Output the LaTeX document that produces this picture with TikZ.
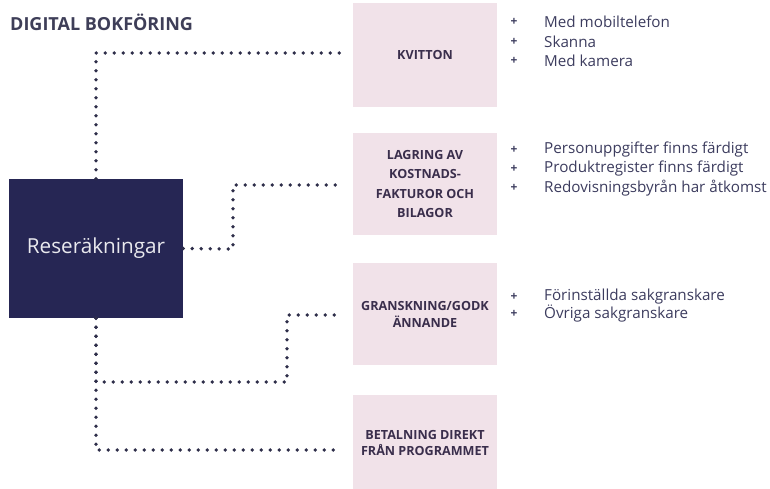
\documentclass[tikz,border=0pt]{standalone}
\usepackage{fontspec}
\setmainfont{Open Sans}
\usetikzlibrary{calc}
\definecolor{navy}{HTML}{262654}
\definecolor{pinkbox}{HTML}{F1E2E9}
\definecolor{boxtxt}{HTML}{3A2E4C}
\definecolor{listtxt}{HTML}{3C3C5E}
\definecolor{titletxt}{HTML}{3E3E58}
\definecolor{dotc}{HTML}{2E2E4A}
\begin{document}
\begin{tikzpicture}[x=1pt,y=-1pt,
  pbox/.style={fill=pinkbox, minimum width=144pt, inner sep=0pt, align=center, text=boxtxt},
  conn/.style={draw=dotc, line width=3.8pt, line cap=round, dash pattern=on 0pt off 9pt},
  item/.style={anchor=west, font=\fontsize{15.2}{16}\selectfont, text=listtxt, inner sep=0pt},
  plus/.style={anchor=center, font=\bfseries\fontsize{12}{12}\selectfont, text=listtxt, inner sep=0pt}]
\useasboundingbox (0,0) rectangle (770,489);
\node[anchor=west, inner sep=0pt, font=\bfseries\fontsize{18}{18}\selectfont, text=titletxt] (title) at (10,22) {DIGITAL BOKFÖRING};
\node[fill=navy, minimum width=174pt, minimum height=139pt, inner sep=0pt, text=white!90!navy, font=\fontsize{20.7}{20.7}\selectfont] (main) at (96,248.5) {Reseräkningar};
\node[pbox, minimum height=104pt, font=\bfseries\fontsize{12.6}{19.5}\selectfont] (kv) at (425,55) {KVITTON};
\node[pbox, minimum height=102pt, font=\bfseries\fontsize{12.6}{19.5}\selectfont] (lag) at (425,184) {LAGRING AV\\KOSTNADS-\\FAKTUROR OCH\\BILAGOR};
\node[pbox, minimum height=102pt, font=\bfseries\fontsize{12.6}{17}\selectfont] (gr) at (425,314) {GRANSKNING/GODK\\ÄNNANDE};
\node[pbox, minimum height=96pt, font=\bfseries\fontsize{12.6}{16.5}\selectfont] (bet) at (425,443) {BETALNING DIREKT\\FRÅN PROGRAMMET};
% lists
\node[plus] (p11) at (514,22) {+}; \node[item] (t11) at (544,22) {Med mobiltelefon};
\node[plus] (p12) at (514,42) {+}; \node[item] (t12) at (544,42) {Skanna};
\node[plus] (p13) at (514,61) {+}; \node[item] (t13) at (544,61) {Med kamera};
\node[plus] (p21) at (514,150) {+}; \node[item] (t21) at (544,150) {Personuppgifter finns färdigt};
\node[plus] (p22) at (514,169) {+}; \node[item] (t22) at (544,169) {Produktregister finns färdigt};
\node[plus] (p23) at (514,188) {+}; \node[item] (t23) at (544,188) {Redovisningsbyrån har åtkomst};
\node[plus] (p31) at (514,297) {+}; \node[item] (t31) at (544,297) {Förinställda sakgranskare};
\node[plus] (p32) at (514,314) {+}; \node[item] (t32) at (544,314) {Övriga sakgranskare};
% connectors
\coordinate (e1) at (342,53);
\coordinate (e2) at (339,185);
\coordinate (k2) at (233,249);
\coordinate (j3) at (96,382);
\coordinate (k3) at (287,382);
\coordinate (e3) at (338,315);
\coordinate (e4) at (338,450);
\draw[conn] (main.north) |- (e1);
\draw[conn] (main.east) -- (k2) |- (e2);
\draw[conn] (main.south) -- (j3) -- (k3) |- (e3);
\draw[conn] (main.south) |- (e4);
\end{tikzpicture}
\end{document}
